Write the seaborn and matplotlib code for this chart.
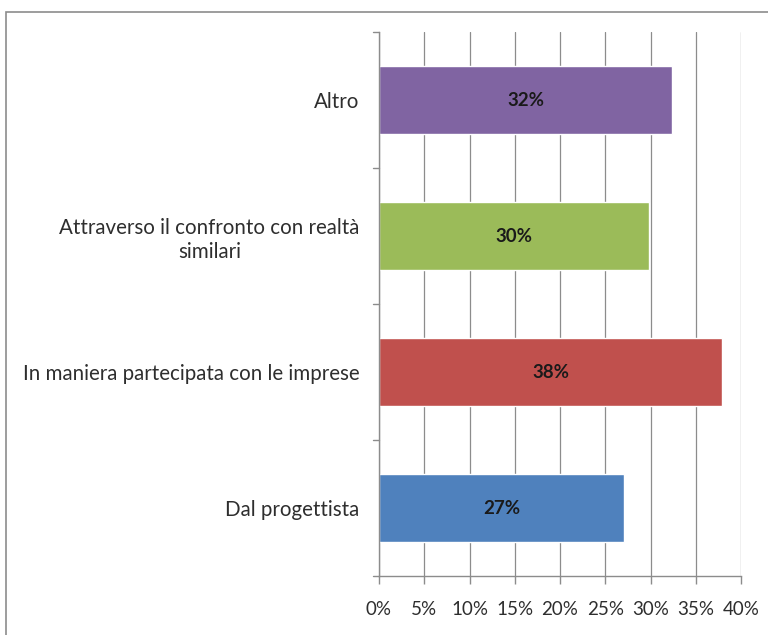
import matplotlib
matplotlib.use("Agg")
import matplotlib.pyplot as plt
import seaborn as sns
import pandas as pd
from matplotlib.patches import Rectangle

categories = [
    "Altro",
    "Attraverso il confronto con realtà\nsimilari",
    "In maniera partecipata con le imprese",
    "Dal progettista",
]
values = [32.4, 29.8, 37.9, 27.1]
colors = ["#8064A2", "#9BBB59", "#C0504D", "#4F81BD"]
x_ticks = [0, 5, 10, 15, 20, 25, 30, 35, 40]
x_tick_labels = [f"{t}%" for t in x_ticks]

sns.set_theme(style="white")
plt.rcParams["font.family"] = ["Lato", "DejaVu Sans"]

df = pd.DataFrame({"category": categories, "value": values})

fig = plt.figure(figsize=(7.68, 6.35), dpi=100)
ax = fig.add_axes([379 / 768, 1 - 576 / 635, (741 - 379) / 768, (576 - 32) / 635])

# outer chart-area frame
fig.patches.append(Rectangle((6 / 768, -0.05), 1.2, 1 - 12 / 635 + 0.05,
                             transform=fig.transFigure, fill=False,
                             edgecolor="#8c8c8c", linewidth=1.2, zorder=0))

sns.barplot(data=df, x="value", y="category", hue="category", palette=colors,
            orient="h", width=0.5, legend=False, ax=ax, saturation=1, zorder=3)

for i, v in enumerate(values):
    ax.text(v / 2, i, f"{v:.0f}%", ha="center", va="center",
            fontsize=13.5, fontweight="bold", color="#1a1a1a", zorder=4)

ax.set_xlim(0, 40)
ax.set_ylim(len(categories) - 0.5, -0.5)
ax.set_xticks(x_ticks)
ax.set_xticklabels(x_tick_labels, fontsize=13.5, color="#2e2e2e")
ax.set_xlabel("")
ax.set_ylabel("")

# category ticks sit on the boundaries between bands
ax.set_yticks(range(len(categories)))
ax.set_yticklabels(categories, fontsize=14.8, color="#2e2e2e",
                   multialignment="center", linespacing=1.25)
ax.tick_params(axis="y", length=0, pad=14)
for b in [-0.5, 0.5, 1.5, 2.5, 3.5]:
    ax.plot([-0.016, 0], [b, b], transform=ax.get_yaxis_transform(),
            color="#8c8c8c", lw=1, clip_on=False, zorder=5)

ax.tick_params(axis="x", length=6, width=1, color="#8c8c8c", pad=12,
               direction="out", bottom=True)

ax.grid(axis="x", color="#8c8c8c", linewidth=0.9, zorder=0)
ax.set_axisbelow(True)
for side in ["top", "right"]:
    ax.spines[side].set_visible(False)
for side in ["left", "bottom"]:
    ax.spines[side].set_color("#8c8c8c")
    ax.spines[side].set_linewidth(1)
    ax.spines[side].set_zorder(5)

fig.savefig("out.png", dpi=100, facecolor="white")
